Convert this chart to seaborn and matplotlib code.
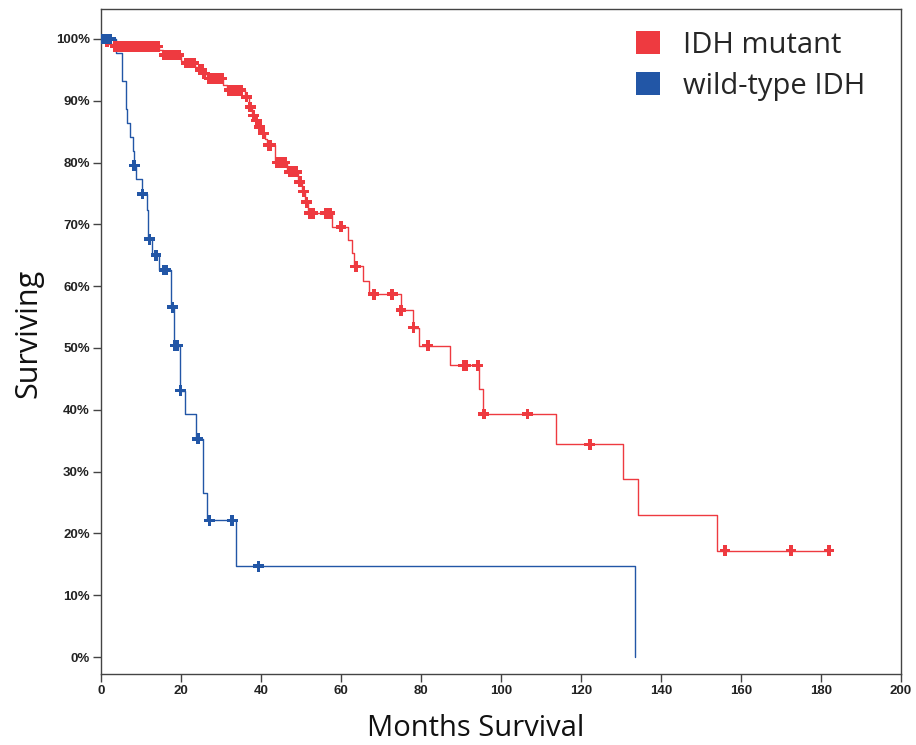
import numpy as np
import pandas as pd
import matplotlib
matplotlib.use("Agg")
import matplotlib.pyplot as plt
from matplotlib.patches import Patch
import seaborn as sns

# ---- data ----
groups = ["IDH mutant", "wild-type IDH"]
colors = ["#EE3A40", "#2256A6"]

red_times = [0, 1.0, 2.0, 3.0, 14.5, 15.5, 20.0, 21.0, 23.5, 24.5, 25.5, 26.5, 30.5, 31.5,
             36.0, 37.0, 37.8, 38.6, 39.4, 40.3, 41.0, 41.6, 43.5, 46.5, 49.3, 50.3, 51.0, 51.8,
             57.7, 61.8, 62.7, 63.2, 65.6, 67.1, 75.0, 78.0, 79.6, 87.2, 94.5, 95.4, 113.7,
             130.4, 134.2, 154.1, 182.0]
red_surv = [100, 99.5, 99.2, 98.8, 98.2, 97.4, 96.5, 96.1, 95.5, 95.0, 94.4, 93.6, 92.5, 91.7,
            90.6, 89.0, 87.6, 86.8, 85.8, 84.7, 83.8, 82.8, 80.0, 78.5, 76.9, 75.3, 73.6, 71.8,
            69.6, 67.5, 65.3, 63.2, 60.8, 58.7, 56.1, 53.3, 50.4, 47.2, 43.3, 39.3, 34.4,
            28.8, 23.0, 17.2, 17.2]
red_censor = [0.3, 1.5, 3.5, 4.5, 5.5, 6.5, 7.5, 8.5, 9.5, 10.5, 11.5, 12.5, 13.5, 14.2,
              15.8, 16.5, 17.2, 18.0, 18.8, 19.5, 21.3, 22.0, 22.7, 23.2, 24.8, 25.2, 25.8,
              27.0, 28.0, 28.8, 29.5, 30.2, 32.0, 32.8, 33.5, 34.2, 35.0,
              36.4, 37.3, 38.1, 38.9, 39.7, 40.6, 41.9, 42.4, 44.0, 44.7, 45.5, 46.0,
              47.2, 48.0, 48.8, 49.7, 50.6, 51.4, 52.2, 53.0, 56.2, 57.2,
              60.0, 63.7, 68.2, 72.8, 75.0, 78.1, 81.7, 90.6, 91.2, 94.2, 95.7, 106.6,
              122.2, 156.0, 172.5, 182.0]

blue_times = [0, 3.75, 5.2, 6.25, 6.5, 7.25, 7.9, 8.2, 8.75, 10.2, 11.4, 11.7, 12.7, 14.5,
              17.5, 18.25, 19.75, 21.0, 23.7, 25.4, 26.4, 33.7, 133.5]
blue_surv = [100, 97.7, 93.2, 88.6, 86.4, 84.1, 81.8, 79.5, 77.3, 74.9, 72.4, 67.6, 65.0, 62.6,
             56.6, 50.4, 43.1, 39.3, 35.3, 26.5, 22.1, 14.7, 0.0]
blue_censor = [0.5, 1.5, 2.3, 8.3, 10.4, 12.1, 13.75, 15.75, 16.2, 17.9, 18.5, 19.1, 19.9,
               24.2, 27.1, 32.8, 39.4]

x_ticks = list(range(0, 201, 20))
y_ticks = list(range(0, 101, 10))
y_tick_labels = [f"{v}%" for v in y_ticks]


def censor_y(times, surv, ct):
    times = np.asarray(times)
    surv = np.asarray(surv)
    idx = np.searchsorted(times, ct, side="right") - 1
    return surv[idx]


curves = pd.concat([
    pd.DataFrame({"t": red_times, "s": red_surv, "g": groups[0]}),
    pd.DataFrame({"t": blue_times, "s": blue_surv, "g": groups[1]}),
])
cens = pd.concat([
    pd.DataFrame({"t": red_censor, "s": censor_y(red_times, red_surv, red_censor), "g": groups[0]}),
    pd.DataFrame({"t": blue_censor, "s": censor_y(blue_times, blue_surv, blue_censor), "g": groups[1]}),
])

sns.set_theme(style="white")
plt.rcParams["font.family"] = ["DejaVu Sans"]

fig = plt.figure(figsize=(9.16, 7.45), dpi=100)
ax = fig.add_axes([101 / 916, 1 - 674 / 745, 800 / 916, 665 / 745])

palette = dict(zip(groups, colors))
for g in [groups[1], groups[0]]:
    d = curves[curves.g == g]
    sns.lineplot(data=d, x="t", y="s", ax=ax, color=palette[g], drawstyle="steps-post",
                 estimator=None, sort=False, linewidth=1.0, legend=False)
for g in [groups[0], groups[1]]:
    d = cens[cens.g == g]
    sns.scatterplot(data=d, x="t", y="s", ax=ax, color=palette[g], marker="P", s=60,
                    edgecolor="none", legend=False, zorder=3)

ax.set_xlim(0, 200)
ax.set_ylim(-2.75, 104.85)
ax.set_xticks(x_ticks)
ax.set_xticklabels([str(v) for v in x_ticks])
ax.set_yticks(y_ticks)
ax.set_yticklabels(y_tick_labels)
ax.tick_params(axis="both", which="major", direction="out", length=6, width=1,
               color="#444444", labelcolor="#222222", labelsize=9.5, pad=2, bottom=True, left=True)
for lab in ax.get_xticklabels() + ax.get_yticklabels():
    lab.set_fontweight("bold")
    lab.set_fontfamily("Liberation Sans")
for sp in ax.spines.values():
    sp.set_color("#444444")
    sp.set_linewidth(1.0)
ax.grid(False)

ax.set_xlabel("")
ax.set_ylabel("")
fig.text(476 / 916, 1 - 728 / 745, "Months Survival", ha="center", va="center",
         fontsize=21, family="Open Sans", color="#111111")
fig.text(28 / 916, 1 - 333 / 745, "Surviving", ha="center", va="center", rotation=90,
         fontsize=22, family="Open Sans", color="#111111")

handles = [Patch(facecolor=c, edgecolor="none") for c in colors]
leg = ax.legend(handles, groups, loc="upper left", bbox_to_anchor=(0.651, 0.9895),
                frameon=False, borderpad=0, handlelength=0.82, handleheight=0.82,
                handletextpad=0.79, labelspacing=0.42,
                prop={"family": "Open Sans", "size": 21})

fig.savefig("out.png", dpi=100)
